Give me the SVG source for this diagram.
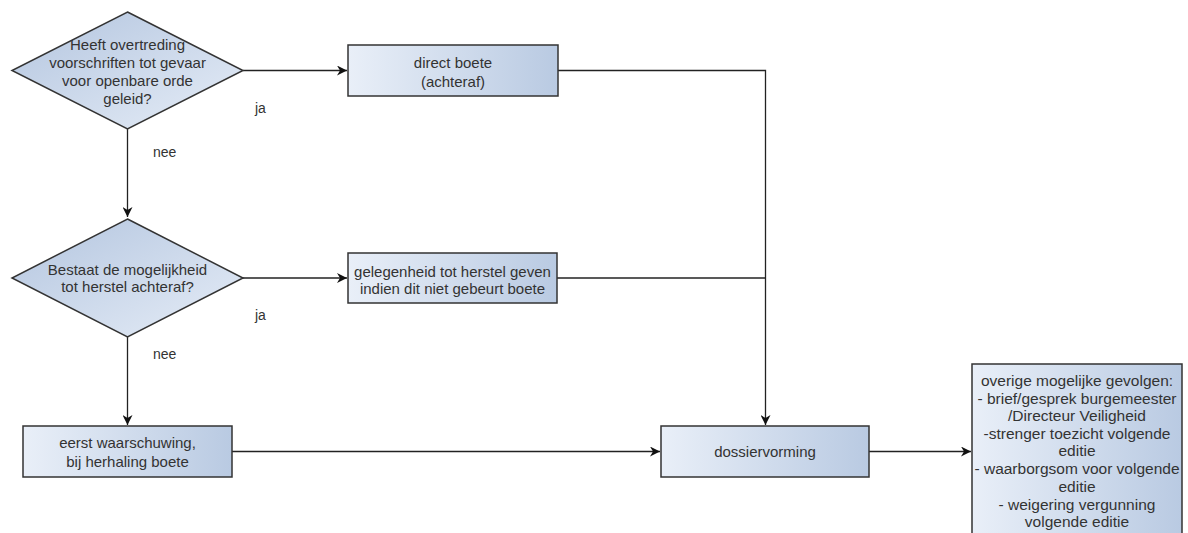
<svg xmlns="http://www.w3.org/2000/svg" width="1188" height="533" viewBox="0 0 1188 533">
  <defs>
    <linearGradient id="boxFill" x1="0" y1="0" x2="1" y2="0">
      <stop offset="0" stop-color="#e9eff8"/>
      <stop offset="1" stop-color="#b9cae2"/>
    </linearGradient>
    <linearGradient id="diamondFill" x1="0" y1="0" x2="1" y2="1">
      <stop offset="0" stop-color="#b3c5df"/>
      <stop offset="1" stop-color="#e6edf7"/>
    </linearGradient>
    <marker id="arrow" viewBox="0 0 10 10" refX="10" refY="5" markerWidth="10" markerHeight="10" markerUnits="userSpaceOnUse" orient="auto">
      <path d="M0,0 L10,5 L0,10 L3,5 Z" fill="#111"/>
    </marker>
  </defs>
  <style>
    .shape { stroke: #333; stroke-width: 1.5; }
    .box { fill: url(#boxFill); }
    .diamond { fill: url(#diamondFill); }
    text { font-family: "Liberation Sans", Arial, sans-serif; font-size: 15px; fill: #333; text-anchor: middle; }
    .lbl { text-anchor: start; font-size: 14px; }
    .wide { font-size: 15.5px; }
    .edge { fill: none; stroke: #222; stroke-width: 1.3; }
  </style>
  <rect width="1188" height="533" fill="#fff"/>

  <g id="connectors">
    <path class="edge" d="M243,70.5 L347,70.5" marker-end="url(#arrow)"/>
    <path class="edge" d="M127.5,129 L127.5,217" marker-end="url(#arrow)"/>
    <path class="edge" d="M243,278 L347,278" marker-end="url(#arrow)"/>
    <path class="edge" d="M127.5,337 L127.5,425" marker-end="url(#arrow)"/>
    <path class="edge" d="M558,70.5 L765.5,70.5 L765.5,425" marker-end="url(#arrow)"/>
    <path class="edge" d="M557,278 L765.5,278"/>
    <path class="edge" d="M232,451.5 L660,451.5" marker-end="url(#arrow)"/>
    <path class="edge" d="M869,451.5 L971,451.5" marker-end="url(#arrow)"/>
    <text class="lbl" x="255" y="113">ja</text>
    <text class="lbl" x="153" y="157">nee</text>
    <text class="lbl" x="255" y="320">ja</text>
    <text class="lbl" x="153" y="359">nee</text>
  </g>

  <g id="q-gevaar">
    <polygon class="shape diamond" points="127.5,12 243,70.5 127.5,129 12,70.5"/>
    <text x="127.5" y="50">Heeft overtreding</text>
    <text x="127.5" y="68">voorschriften tot gevaar</text>
    <text x="127.5" y="86">voor openbare orde</text>
    <text x="127.5" y="104">geleid?</text>
  </g>

  <g id="q-herstel">
    <polygon class="shape diamond" points="127.5,219 243,278 127.5,337 12,278"/>
    <text x="127.5" y="275">Bestaat de mogelijkheid</text>
    <text x="127.5" y="292">tot herstel achteraf?</text>
  </g>

  <g id="direct-boete">
    <rect class="shape box" x="348" y="45" width="210" height="51"/>
    <text x="453" y="68">direct boete</text>
    <text x="453" y="87">(achteraf)</text>
  </g>

  <g id="herstel-geven">
    <rect class="shape box" x="348" y="253" width="209" height="50"/>
    <text x="452.5" y="277">gelegenheid tot herstel geven</text>
    <text x="452.5" y="294">indien dit niet gebeurt boete</text>
  </g>

  <g id="waarschuwing">
    <rect class="shape box" x="23" y="426" width="209" height="51"/>
    <text x="127.5" y="448">eerst waarschuwing,</text>
    <text x="127.5" y="467">bij herhaling boete</text>
  </g>

  <g id="dossiervorming">
    <rect class="shape box" x="661" y="426" width="208" height="51"/>
    <text x="765" y="457">dossiervorming</text>
  </g>

  <g id="gevolgen">
    <rect class="shape box" x="972" y="364" width="210" height="180"/>
    <text class="wide" x="1077" y="386">overige mogelijke gevolgen:</text>
    <text class="wide" x="1077" y="403.5">- brief/gesprek burgemeester</text>
    <text class="wide" x="1077" y="421">/Directeur Veiligheid</text>
    <text class="wide" x="1077" y="438.5">-strenger toezicht volgende</text>
    <text class="wide" x="1077" y="456">editie</text>
    <text class="wide" x="1077" y="474">- waarborgsom voor volgende</text>
    <text class="wide" x="1077" y="491.5">editie</text>
    <text class="wide" x="1077" y="509.5">- weigering vergunning</text>
    <text class="wide" x="1077" y="527">volgende editie</text>
  </g>
</svg>
